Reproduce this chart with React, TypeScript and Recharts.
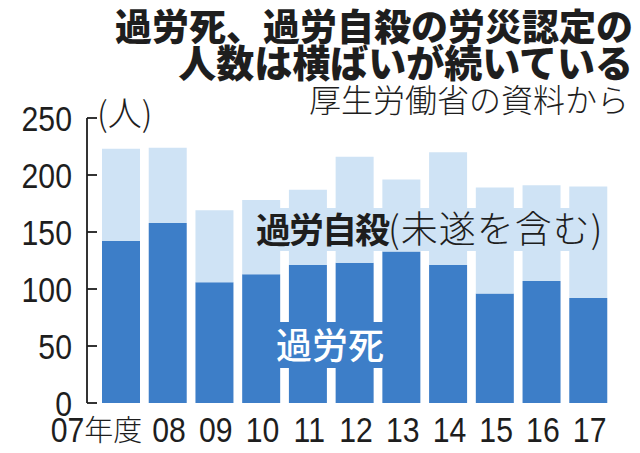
import { BarChart, Bar, XAxis, YAxis } from "recharts";

const years = ["07", "08", "09", "10", "11", "12", "13", "14", "15", "16", "17"];
// 過労死 (death from overwork)
const karoshi = [142, 158, 106, 113, 121, 123, 133, 121, 96, 107, 92];
// 過労自殺 (suicide from overwork, incl. attempts)
const jisatsu = [81, 66, 63, 65, 66, 93, 63, 99, 93, 84, 98];
const yTicks = [0, 50, 100, 150, 200, 250];

const DARK = "#3d7ec8";
const LIGHT = "#cfe3f5";
const INK = "#1e1e1e";
const NUM_FONT = "'Liberation Sans', Arial, sans-serif";
const JP_FONT = "'Noto Sans CJK JP', sans-serif";
// condensed look for the numbers (no narrow font installed)
const SQUEEZE = 0.84;

const data = years.map((y, i) => ({ year: y, karoshi: karoshi[i], jisatsu: jisatsu[i] }));

function Num({ x, y, anchor, children }: { x: number; y: number; anchor: string; children: any }) {
  return (
    <text
      transform={`translate(${x},${y}) scale(${SQUEEZE},1)`}
      textAnchor={anchor}
      fontFamily={NUM_FONT}
      fontSize={36}
      fill={INK}
    >
      {children}
    </text>
  );
}

function YTick(props: any) {
  const { x, y, payload } = props;
  return (
    <g>
      <line x1={x} x2={x + 10} y1={y} y2={y} stroke={INK} strokeWidth={1.8} />
      <Num x={x - 15} y={y + 13} anchor="end">{payload.value}</Num>
    </g>
  );
}

function XTick(props: any) {
  const { x, y, payload, index } = props;
  if (index === 0) {
    return (
      <g>
        <Num x={x - 37} y={y + 39} anchor="end">{payload.value}</Num>
        <text x={x - 37} y={y + 38} fontFamily={JP_FONT} fontSize={29} fontWeight={300} fill={INK}>
          年度
        </text>
      </g>
    );
  }
  return <Num x={x + 1} y={y + 39} anchor="middle">{payload.value}</Num>;
}

export default function App() {
  return (
    <div style={{ position: "absolute", left: 0, top: 0, width: 640, height: 453, background: "#fff" }}>
      <BarChart
        width={640}
        height={453}
        data={data}
        margin={{ top: 118, right: 28, bottom: 20, left: 0 }}
      >
        <XAxis
          dataKey="year"
          axisLine={false}
          tickLine={false}
          tickSize={0}
          tickMargin={0}
          height={30}
          padding={{ left: 11, right: 0 }}
          interval={0}
          tick={<XTick />}
        />
        <YAxis
          width={87}
          domain={[0, 250]}
          ticks={yTicks}
          interval={0}
          tickLine={false}
          tickSize={0}
          tickMargin={0}
          axisLine={{ stroke: INK, strokeWidth: 1.8 }}
          tick={<YTick />}
        />
        <Bar dataKey="karoshi" stackId="a" fill={DARK} barSize={38} isAnimationActive={false} />
        <Bar dataKey="jisatsu" stackId="a" fill={LIGHT} barSize={38} isAnimationActive={false} />
      </BarChart>
      <svg
        width={640}
        height={453}
        style={{ position: "absolute", left: 0, top: 0, pointerEvents: "none" }}
      >
        <text x={633} y={41} textAnchor="end" fontFamily={JP_FONT} fontWeight={900} fontSize={37} fill={INK}>
          過労死、過労自殺の労災認定の
        </text>
        <text x={633} y={77} textAnchor="end" fontFamily={JP_FONT} fontWeight={900} fontSize={38} fill={INK}>
          人数は横ばいが続いている
        </text>
        <text x={629} y={112} textAnchor="end" fontFamily={JP_FONT} fontWeight={300} fontSize={32} fill={INK}>
          厚生労働省の資料から
        </text>
        <text x={97} y={126} fontFamily={JP_FONT} fontWeight={300} fontSize={34} fill={INK}>
          (人)
        </text>
        <rect x={248} y={208} width={359} height={43} fill={LIGHT} />
        <text x={256} y={243} fontFamily={JP_FONT} fill={INK}>
          <tspan fontWeight={700} fontSize={35} letterSpacing={-2}>過労自殺</tspan>
          <tspan fontWeight={300} fontSize={37} letterSpacing={1}>(未遂を含む)</tspan>
        </text>
        <rect x={271} y={322} width={120} height={46} fill={DARK} />
        <text x={276} y={359} fontFamily={JP_FONT} fontWeight={500} fontSize={36} fill="#fff">
          過労死
        </text>
      </svg>
    </div>
  );
}
